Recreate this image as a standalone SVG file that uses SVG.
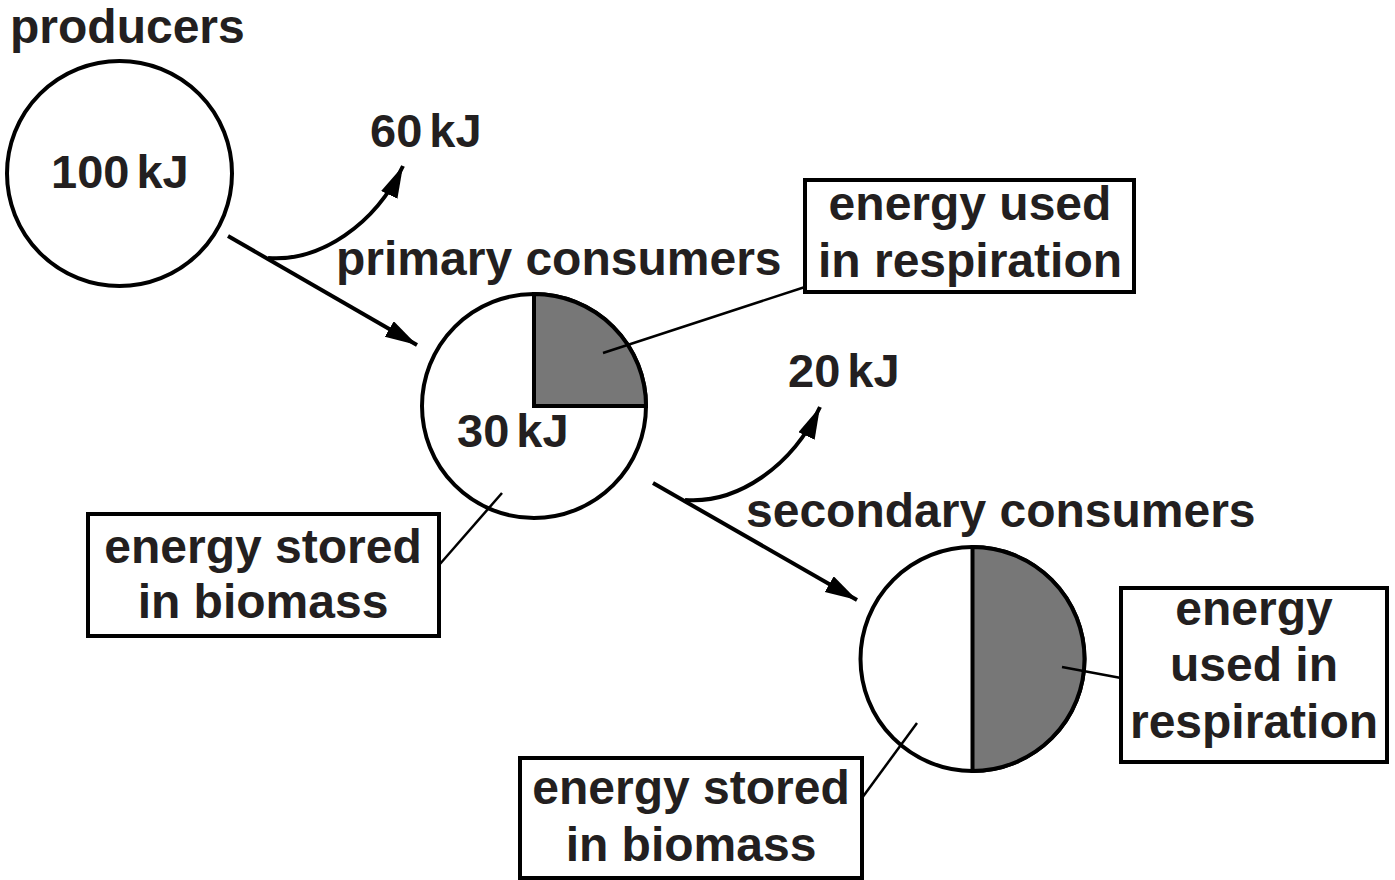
<svg xmlns="http://www.w3.org/2000/svg" width="1395" height="880" viewBox="0 0 1395 880">
<style>
text{font-family:"Liberation Sans",Arial,sans-serif;font-weight:bold;font-size:48px;fill:#231f20}
.c{text-anchor:middle}
.kj{font-size:47px;word-spacing:-6px}
.circ{fill:#fff;stroke:#000;stroke-width:4}
.shade{fill:#777;stroke:#000;stroke-width:4}
.box{fill:#fff;stroke:#000;stroke-width:4}
.ln{fill:none;stroke:#000;stroke-width:4}
.ld{fill:none;stroke:#000;stroke-width:2.5}
</style>
<defs>
<marker id="ah" markerUnits="userSpaceOnUse" markerWidth="34" markerHeight="20" refX="32" refY="9" orient="auto" viewBox="0 0 34 20">
<path d="M0,0 L32,9 L0,18 z" fill="#000"/>
</marker>
</defs>
<g id="producers">
<text x="10" y="43">producers</text>
<circle class="circ" cx="119.5" cy="173.5" r="112.5"/>
<text class="kj" x="51" y="188">100 kJ</text>
</g>
<g id="loss1">
<text class="kj" x="370" y="147">60 kJ</text>
</g>
<g id="primary">
<text x="336" y="275">primary consumers</text>
<circle class="circ" cx="534" cy="406" r="112"/>
<path class="shade" d="M534,406 L534,294 A112,112 0 0 1 646,406 Z"/>
<text class="kj" x="457" y="447">30 kJ</text>
</g>
<g id="loss2">
<text class="kj" x="788" y="387">20 kJ</text>
</g>
<g id="secondary">
<text x="746" y="527">secondary consumers</text>
<circle class="circ" cx="972.5" cy="659" r="112"/>
<path class="shade" d="M972.5,547 A112,112 0 0 1 972.5,771 Z"/>
</g>
<g id="box-resp1">
<rect class="box" x="805" y="180" width="329" height="112"/>
<text class="c" x="970" y="220">energy used</text>
<text class="c" x="970" y="277">in respiration</text>
</g>
<g id="box-bio1">
<rect class="box" x="88" y="514" width="351" height="122"/>
<text class="c" x="263" y="563">energy stored</text>
<text class="c" x="263" y="618">in biomass</text>
</g>
<g id="box-resp2">
<rect class="box" x="1121" y="588" width="266" height="174"/>
<text class="c" x="1254" y="625">energy</text>
<text class="c" x="1254" y="681">used in</text>
<text class="c" x="1254" y="738">respiration</text>
</g>
<g id="box-bio2">
<rect class="box" x="520" y="758" width="342" height="120"/>
<text class="c" x="691" y="804">energy stored</text>
<text class="c" x="691" y="861">in biomass</text>
</g>
<g id="connectors">
<path class="ln" d="M228,236 L417,345" marker-end="url(#ah)"/>
<path class="ln" d="M268,258 C320,262 375,225 403,166" marker-end="url(#ah)"/>
<path class="ln" d="M653,483 L857,600" marker-end="url(#ah)"/>
<path class="ln" d="M685,500 C737,504 792,467 820,407" marker-end="url(#ah)"/>
<path class="ld" d="M603,353 L805,287"/>
<path class="ld" d="M502,493 L440,564"/>
<path class="ld" d="M1062,667 L1121,678"/>
<path class="ld" d="M917,723 L862,798"/>
</g>
</svg>
